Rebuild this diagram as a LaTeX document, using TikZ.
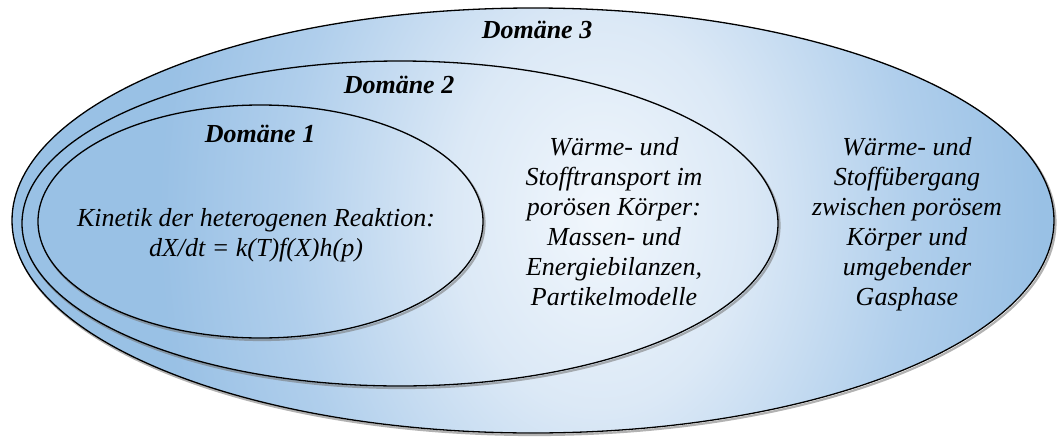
\documentclass[tikz,border=0pt]{standalone}
\usepackage{fontspec}
\setmainfont{Liberation Serif}
\definecolor{domblue}{rgb}{0.60,0.755,0.898}
\pgfdeclareradialshading{domshade}{\pgfpoint{0bp}{0bp}}{rgb(0bp)=(0.945,0.968,0.99); rgb(8bp)=(0.86,0.912,0.965); rgb(17bp)=(0.69,0.81,0.925); rgb(24bp)=(0.60,0.755,0.898); rgb(100bp)=(0.60,0.755,0.898)}
\tikzset{
  domline/.style={draw=black, line width=1.3pt},
  domshadow/.style={draw=black!55, line width=2.2pt, opacity=0.55},
  domtitle/.style={font=\fontsize{26}{30}\selectfont\bfseries\itshape, anchor=base, inner sep=0pt, outer sep=0pt},
  domtext/.style={font=\fontsize{26}{30}\selectfont\itshape, align=center, anchor=north, inner sep=0pt, outer sep=0pt},
}
\newcommand{\domellipse}[3]{%
  \draw[domshadow] ([shift={(1.5,2)}]#1) ellipse [x radius=#2pt, y radius=#3pt];
  \begin{scope}
    \clip (#1) ellipse [x radius=#2pt, y radius=#3pt];
    \fill[domblue] (0,0) rectangle (1058,437);
    \shade[shading=domshade] (140,-395) rectangle (1060,825);
  \end{scope}
  \draw[domline] (#1) ellipse [x radius=#2pt, y radius=#3pt];
}
\begin{document}
\begin{tikzpicture}[x=1pt,y=-1pt]
\useasboundingbox (0,0) rectangle (1058,437);
\coordinate (c3) at (533,220.5);
\coordinate (c2) at (400,223.5);
\coordinate (c1) at (260.5,221.5);
\domellipse{c3}{521}{212.5}
\domellipse{c2}{378}{162.5}
\domellipse{c1}{222.5}{116.5}
\node[domtitle] (d3) at (537,38) {Domäne 3};
\node[domtitle] (d2) at (399,93) {Domäne 2};
\node[domtitle] (d1) at (260,142) {Domäne 1};
\node[domtext] (kin) at (256,206) {\rule{0pt}{20pt}Kinetik der heterogenen Reaktion:\\dX/dt = k(T)f(X)h(p)};
\node[domtext] (mid) at (614,135) {\rule{0pt}{20pt}Wärme- und\\Stofftransport im\\porösen Körper:\\Massen- und\\Energiebilanzen,\\Partikelmodelle};
\node[domtext] (right) at (907,135) {\rule{0pt}{20pt}Wärme- und\\Stoffübergang\\zwischen porösem\\Körper und\\umgebender\\Gasphase};
\end{tikzpicture}
\end{document}
